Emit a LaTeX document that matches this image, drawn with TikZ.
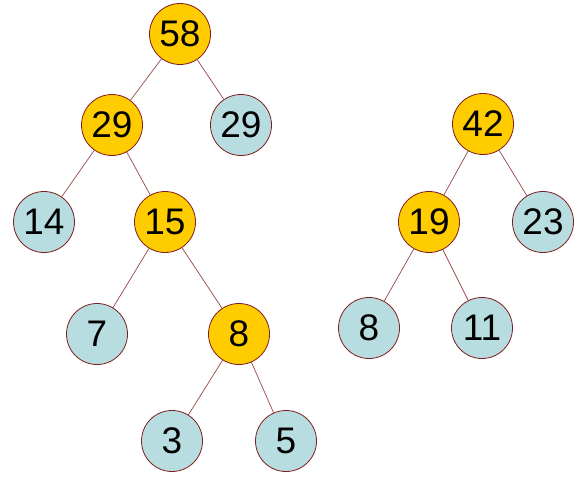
\documentclass[tikz,border=0pt]{standalone}
\usepackage{fontspec}
\setmainfont{Liberation Sans}
\definecolor{gold}{HTML}{FFCC00}
\definecolor{lblue}{HTML}{B8DDE1}
\definecolor{rim}{HTML}{7F1F1F}
\definecolor{edge}{HTML}{994444}
\begin{document}
\begin{tikzpicture}[x=1pt,y=-1pt,
  nd/.style={circle,draw=rim,line width=0.8pt,minimum size=61pt,inner sep=0pt,font=\fontsize{37}{40}\selectfont},
  inner/.style={nd,fill=gold},
  leaf/.style={nd,fill=lblue},
  ed/.style={draw=edge,line width=0.7pt}]
\useasboundingbox (0,0) rectangle (586,487);
\node[inner] (n58) at (180,34) {58};
\node[inner] (n29a) at (112,125) {29};
\node[leaf] (n29b) at (241,125) {29};
\node[leaf] (n14) at (44,222) {14};
\node[inner] (n15) at (165,222) {15};
\node[leaf] (n7) at (97,334) {7};
\node[inner] (n8a) at (239,334) {8};
\node[leaf] (n3) at (172,441) {3};
\node[leaf] (n5) at (286,441) {5};
\node[inner] (n42) at (483,124) {42};
\node[inner] (n19) at (429,222) {19};
\node[leaf] (n23) at (543,222) {23};
\node[leaf] (n8b) at (369,328) {8};
\node[leaf] (n11) at (482,328) {11};
\draw[ed] (n58) -- (n29a);
\draw[ed] (n58) -- (n29b);
\draw[ed] (n29a) -- (n14);
\draw[ed] (n29a) -- (n15);
\draw[ed] (n15) -- (n7);
\draw[ed] (n15) -- (n8a);
\draw[ed] (n8a) -- (n3);
\draw[ed] (n8a) -- (n5);
\draw[ed] (n42) -- (n19);
\draw[ed] (n42) -- (n23);
\draw[ed] (n19) -- (n8b);
\draw[ed] (n19) -- (n11);
\end{tikzpicture}
\end{document}
